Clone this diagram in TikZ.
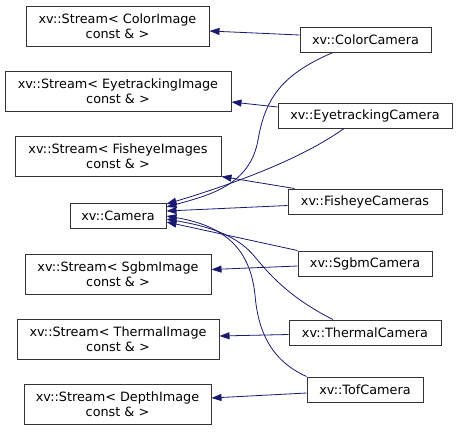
\documentclass[tikz,border=0pt]{standalone}
\usepackage{fontspec}
\setmainfont{DejaVu Sans}
\usetikzlibrary{arrows.meta}
\definecolor{edgeblue}{HTML}{191970}

\begin{document}
\begin{tikzpicture}[
    x=1pt, y=-1pt,
    cls/.style={rectangle, draw=black!80, line width=1pt, inner sep=0pt,
        align=center, font=\fontsize{12.8}{15}\selectfont},
    single/.style={cls, minimum height=25pt},
    double/.style={cls, minimum height=40pt},
    inh/.style={-{Triangle[length=10pt, width=7pt]}, draw=edgeblue, fill=none, line width=0.8pt}
]
    \useasboundingbox (0,0) rectangle (457,431);

    % base classes
    \node[double, minimum width=183pt] (scolor) at (117.5,26) {xv::Stream< ColorImage\\const \& >};
    \node[double, minimum width=226pt] (seye) at (118,91) {xv::Stream< EyetrackingImage\\const \& >};
    \node[double, minimum width=206pt] (sfish) at (118,156) {xv::Stream< FisheyeImages\\const \& >};
    \node[single, minimum width=96pt] (cam) at (118,215.5) {xv::Camera};
    \node[double, minimum width=186pt] (ssgbm) at (118,274) {xv::Stream< SgbmImage\\const \& >};
    \node[double, minimum width=202pt] (sther) at (118,339) {xv::Stream< ThermalImage\\const \& >};
    \node[double, minimum width=187pt] (sdep) at (117.5,404) {xv::Stream< DepthImage\\const \& >};

    % derived classes
    \node[single, minimum width=131pt] (color) at (365.5,39.5) {xv::ColorCamera};
    \node[single, minimum width=174pt] (eye) at (365,115.5) {xv::EyetrackingCamera};
    \node[single, minimum width=154pt] (fish) at (365,201.5) {xv::FisheyeCameras};
    \node[single, minimum width=134pt] (sgbm) at (365,263.5) {xv::SgbmCamera};
    \node[single, minimum width=152pt] (ther) at (365,332.5) {xv::ThermalCamera};
    \node[single, minimum width=116pt] (tof) at (365,389.5) {xv::TofCamera};

    % stream edges
    \draw[inh] ([yshift=4.5pt]color.west) -- ([yshift=-5pt]scolor.east);
    \draw[inh] ([yshift=8.5pt]eye.west) -- ([yshift=-11pt]seye.east);
    \draw[inh] ([xshift=7pt]fish.north west) -- (sfish.south east);
    \draw[inh] ([yshift=-2.5pt]sgbm.west) -- ([yshift=4.5pt]ssgbm.east);
    \draw[inh] ([yshift=-2pt]ther.west) -- ([yshift=3pt]sther.east);
    \draw[inh] ([yshift=-3.5pt]tof.west) -- ([yshift=6pt]sdep.east);

    % camera edges
    \draw[inh] ([xshift=-32.5pt]color.south) .. controls (280,75) and (265,100) .. (258,140)
        .. controls (250,185) and (210,195) .. ([yshift=8.5pt]cam.east);
    \draw[inh] ([xshift=-21pt]eye.south) .. controls (300,160) and (230,185) .. ([yshift=11.5pt]cam.east);
    \draw[inh] ([yshift=-4pt]fish.west) -- ([yshift=4.5pt]cam.east);
    \draw[inh] (sgbm.north west) -- ([yshift=-6.5pt]cam.east);
    \draw[inh] ([xshift=-32pt]ther.north) .. controls (290,298) and (270,275) .. (255,257)
        .. controls (235,232) and (200,225) .. ([yshift=-3.5pt]cam.east);
    \draw[inh] (tof.north west) .. controls (270,360) and (258,330) .. (255,295)
        .. controls (250,245) and (220,225) .. ([yshift=-0.5pt]cam.east);
\end{tikzpicture}
\end{document}
